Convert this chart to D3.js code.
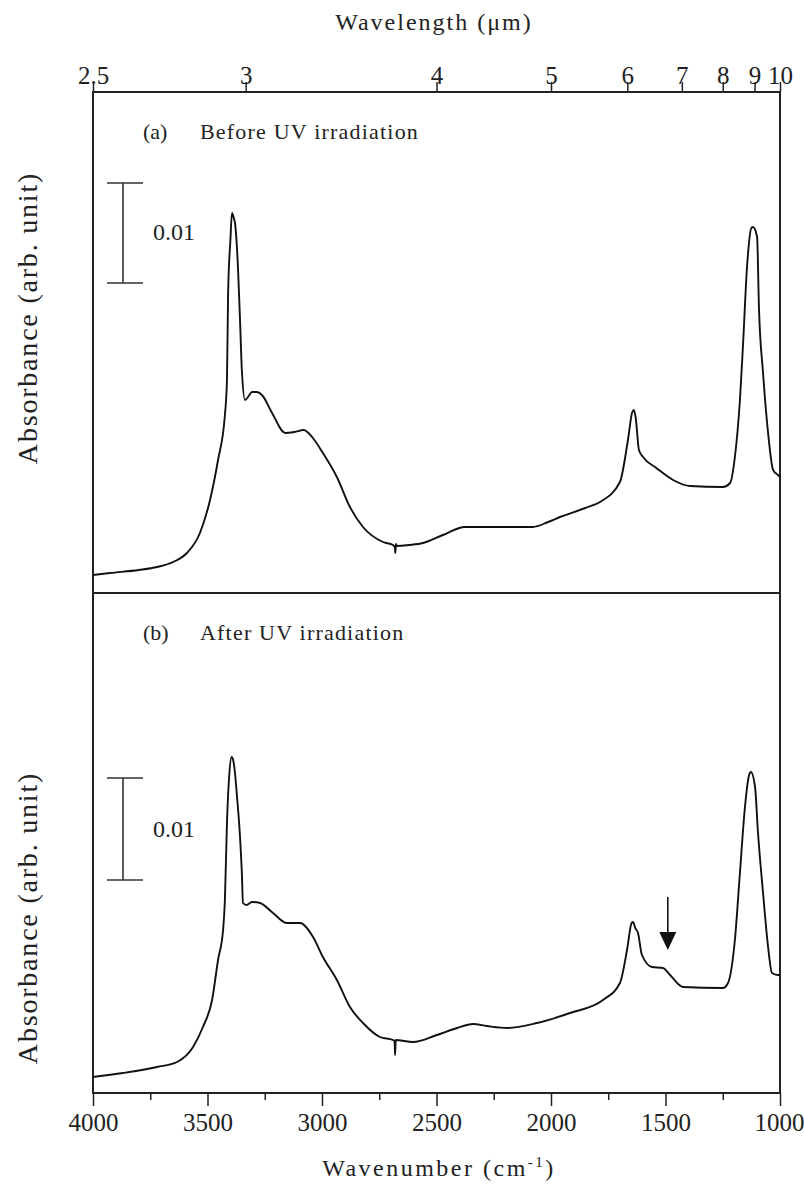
<html>
<head>
<meta charset="utf-8">
<title>FTIR spectra before / after UV</title>
<script src="https://cdn.jsdelivr.net/npm/d3@7"></script>
<style>
  html, body { margin: 0; padding: 0; background: #fff; }
  svg { display: block; }
  text { font-family: 'Liberation Serif', 'DejaVu Serif', serif; fill: #222; }
</style>
</head>
<body>
<div id="chart"></div>
<script>
// wavenumbers (cm-1) and absorbance, panel (a) before UV
var wnBefore = [4000, 3926, 3800, 3720, 3650, 3590, 3533, 3489, 3454, 3424, 3415, 3410, 3400, 3393, 3385, 3380,
  3367, 3358, 3350, 3336, 3320, 3306, 3285, 3262, 3218, 3160, 3120, 3080, 3040, 2996, 2935, 2878, 2821, 2734,
  2690, 2682, 2680, 2677, 2672, 2620, 2559, 2472, 2376, 2079, 2013, 1961, 1850, 1786, 1699, 1664, 1645, 1638,
  1630, 1616, 1598, 1540, 1467, 1393, 1249, 1218, 1197, 1175, 1162, 1144, 1125, 1118, 1100, 1092, 1074, 1052,
  1030, 1009, 1000];
var absBefore = [0.0018, 0.0020, 0.0023, 0.0026, 0.0031, 0.0040, 0.0060, 0.0093, 0.0133, 0.0178, 0.0213, 0.0300,
  0.0353, 0.0380, 0.0375, 0.0370, 0.0326, 0.0273, 0.0223, 0.0193, 0.0197, 0.0201, 0.0201, 0.0198, 0.0180, 0.0160,
  0.0161, 0.0163, 0.0155, 0.0140, 0.0116, 0.0086, 0.0066, 0.0051, 0.0048, 0.0046, 0.0040, 0.0049, 0.0047, 0.0048,
  0.0050, 0.0058, 0.0066, 0.0066, 0.0071, 0.0076, 0.0085, 0.0091, 0.0111, 0.0153, 0.0181, 0.0183, 0.0175, 0.0143,
  0.0136, 0.0125, 0.0113, 0.0107, 0.0106, 0.0110, 0.0136, 0.0193, 0.0246, 0.0326, 0.0365, 0.0366, 0.0356, 0.0286,
  0.0220, 0.0160, 0.0123, 0.0118, 0.0116];

// panel (b) after UV
var wnAfter = [4000, 3869, 3720, 3633, 3563, 3520, 3480, 3454, 3432, 3424, 3415, 3405, 3395, 3388, 3380, 3371,
  3358, 3350, 3345, 3330, 3306, 3271, 3214, 3153, 3096, 3039, 2996, 2935, 2878, 2821, 2747, 2690, 2683, 2681,
  2678, 2603, 2498, 2410, 2341, 2280, 2192, 2061, 1917, 1773, 1699, 1668, 1648, 1642, 1632, 1620, 1603, 1559,
  1511, 1480, 1424, 1249, 1227, 1197, 1175, 1153, 1135, 1127, 1109, 1096, 1074, 1052, 1035, 1009, 1000];
var absAfter = [0.0016, 0.0020, 0.0026, 0.0031, 0.0046, 0.0066, 0.0093, 0.0133, 0.0163, 0.0193, 0.0270, 0.0318,
  0.0336, 0.0333, 0.0320, 0.0296, 0.0256, 0.0220, 0.0190, 0.0188, 0.0191, 0.0190, 0.0180, 0.0170, 0.0170, 0.0156,
  0.0136, 0.0113, 0.0086, 0.0070, 0.0056, 0.0053, 0.0052, 0.0038, 0.0053, 0.0051, 0.0058, 0.0065, 0.0069, 0.0067,
  0.0065, 0.0070, 0.0080, 0.0093, 0.0110, 0.0143, 0.0170, 0.0171, 0.0165, 0.0160, 0.0138, 0.0126, 0.0125, 0.0118,
  0.0106, 0.0105, 0.0110, 0.0153, 0.0220, 0.0286, 0.0318, 0.0321, 0.0306, 0.0260, 0.0200, 0.0146, 0.0120, 0.0118,
  0.0118];

var wnMajor = [4000, 3500, 3000, 2500, 2000, 1500, 1000];
var wnMinor = [3750, 3250, 2750, 2250, 1750, 1250];
var wavelengths = [2.5, 3, 4, 5, 6, 7, 8, 9, 10];
var panelLabels = ['(a)', '(b)'];
var panelTitles = ['Before UV irradiation', 'After UV irradiation'];
var arrowWn = 1490;

var W = 804, H = 1188,
    plotLeft = 93, plotRight = 780,
    plotTop = 92, plotMid = 593, plotBottom = 1093;

var svg = d3.select('#chart').append('svg')
  .attr('width', W)
  .attr('height', H);

var x = d3.scaleLinear().domain([4000, 1000]).range([plotLeft, plotRight]);
var yA = d3.scaleLinear().domain([0, 0.0501]).range([plotMid, plotTop]);
var yB = d3.scaleLinear().domain([0, 0.05]).range([plotBottom, plotMid]);

// frame
svg.append('rect')
  .attr('x', plotLeft).attr('y', plotTop)
  .attr('width', plotRight - plotLeft).attr('height', plotBottom - plotTop)
  .attr('fill', 'none').attr('stroke', '#222').attr('stroke-width', 2);
svg.append('line')
  .attr('x1', plotLeft).attr('x2', plotRight)
  .attr('y1', plotMid).attr('y2', plotMid)
  .attr('stroke', '#222').attr('stroke-width', 2);

// bottom axis, major + minor
var gMajor = svg.append('g')
  .attr('transform', 'translate(0,' + plotBottom + ')')
  .call(d3.axisBottom(x).tickValues(wnMajor).tickSize(13).tickPadding(7).tickFormat(d3.format('d')));
var gMinor = svg.append('g')
  .attr('transform', 'translate(0,' + plotBottom + ')')
  .call(d3.axisBottom(x).tickValues(wnMinor).tickSize(7).tickFormat(''));

// top axis, wavelength in um
var gTop = svg.append('g')
  .attr('transform', 'translate(0,' + plotTop + ')')
  .call(d3.axisTop(x).tickValues(wavelengths.map(function(l) { return 10000 / l; }))
    .tickSize(10).tickFormat(function(d) { return d3.format('~g')(+(10000 / d).toFixed(2)); }));
gTop.selectAll('.tick text').attr('y', -8);

[gMajor, gMinor, gTop].forEach(function(g) {
  g.select('.domain').remove();
  g.selectAll('.tick line').attr('stroke', '#222').attr('stroke-width', 1.5);
  g.selectAll('.tick text')
    .attr('fill', '#222')
    .style('font-size', '25px');
});
// "1000" sits at the right edge, keep it inside
gMajor.selectAll('.tick text').filter(function(d) { return d === 1000; })
  .attr('text-anchor', 'end').attr('x', 24);

// axis titles
svg.append('text')
  .attr('x', 434).attr('y', 30)
  .attr('text-anchor', 'middle')
  .style('font-size', '24px').style('letter-spacing', '2px')
  .text('Wavelength (\u03bcm)');

var xt = svg.append('text')
  .attr('x', 439).attr('y', 1176)
  .attr('text-anchor', 'middle')
  .style('font-size', '24px').style('letter-spacing', '2.5px');
xt.append('tspan').text('Wavenumber (cm');
xt.append('tspan').attr('dy', -9).style('font-size', '15px').text('-1');
xt.append('tspan').attr('dy', 9).text(')');

var yLabelCenters = [318, 918];
yLabelCenters.forEach(function(cy) {
  svg.append('text')
    .attr('transform', 'translate(37,' + cy + ') rotate(-90)')
    .attr('text-anchor', 'middle')
    .style('font-size', '28px').style('letter-spacing', '1.8px')
    .text('Absorbance (arb. unit)');
});

// spectra
var panels = [
  { wn: wnBefore, abs: absBefore, y: yA, bar: [0.031, 0.041], barLabelY: 240, labelY: 139 },
  { wn: wnAfter, abs: absAfter, y: yB, bar: [0.0213, 0.0315], barLabelY: 837, labelY: 640 }
];

panels.forEach(function(p, i) {
  var pts = p.wn.map(function(w, j) { return [w, p.abs[j]]; });
  var line = d3.line()
    .curve(d3.curveMonotoneX)
    .x(function(d) { return x(d[0]); })
    .y(function(d) { return p.y(d[1]); });
  svg.append('path')
    .datum(pts)
    .attr('d', line)
    .attr('fill', 'none')
    .attr('stroke', '#111')
    .attr('stroke-width', 1.9)
    .attr('stroke-linejoin', 'round');

  // 0.01 scale bar
  var y0 = p.y(p.bar[0]), y1 = p.y(p.bar[1]);
  var g = svg.append('g').attr('stroke', '#333').attr('stroke-width', 1.6);
  g.append('line').attr('x1', 123).attr('x2', 123).attr('y1', y0).attr('y2', y1);
  g.append('line').attr('x1', 107).attr('x2', 143).attr('y1', y0).attr('y2', y0);
  g.append('line').attr('x1', 107).attr('x2', 143).attr('y1', y1).attr('y2', y1);
  svg.append('text')
    .attr('x', 153).attr('y', p.barLabelY)
    .style('font-size', '24px').attr('fill', '#444')
    .text('0.01');

  svg.append('text')
    .attr('x', 143).attr('y', p.labelY)
    .style('font-size', '22px')
    .text(panelLabels[i]);
  svg.append('text')
    .attr('x', 200).attr('y', p.labelY)
    .style('font-size', '22px').style('letter-spacing', '1.2px')
    .text(panelTitles[i]);
});

// arrow in panel (b)
var ax = x(arrowWn);
svg.append('line')
  .attr('x1', ax).attr('x2', ax)
  .attr('y1', 897).attr('y2', 934)
  .attr('stroke', '#111').attr('stroke-width', 1.6);
svg.append('path')
  .attr('d', 'M' + (ax - 8.5) + ',932 L' + (ax + 8.5) + ',932 L' + ax + ',950 Z')
  .attr('fill', '#111');
</script>
</body>
</html>
